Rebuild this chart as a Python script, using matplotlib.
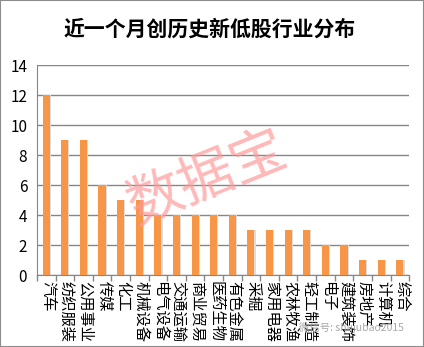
import matplotlib.pyplot as plt
import numpy as np

plt.rcParams['font.family'] = ['Noto Sans CJK SC', 'DejaVu Sans']

industries = ['汽车', '纺织服装', '公用事业', '传媒', '化工', '机械设备', '电气设备',
              '交通运输', '商业贸易', '医药生物', '有色金属', '采掘', '家用电器',
              '农林牧渔', '轻工制造', '电子', '建筑装饰', '房地产', '计算机', '综合']
counts = [12, 9, 9, 6, 5, 5, 4, 4, 4, 4, 4, 3, 3, 3, 3, 2, 2, 1, 1, 1]
yticks = [0, 2, 4, 6, 8, 10, 12, 14]

fig = plt.figure(figsize=(4.24, 3.47), dpi=100)
ax = fig.add_axes([0.087, 0.207, 0.878, 0.605])

x = np.arange(len(industries))
# light shadow behind the bars
ax.bar(x + 0.06, counts, width=0.38, color='#dcdcdc', zorder=2)
ax.bar(x, counts, width=0.38, color='#F79646', zorder=3)

ax.set_xlim(-0.5, len(industries) - 0.5)
ax.set_ylim(0, 14)
ax.set_yticks(yticks)
ax.tick_params(axis='y', labelsize=11, length=0, pad=7)
ax.yaxis.grid(True, color='#868686', linewidth=1)
ax.set_axisbelow(True)

ax.set_xticks(x + 0.1)
ax.set_xticklabels(industries, rotation=-90, fontsize=11, va='top', ha='center')
ax.tick_params(axis='x', length=0, pad=4)
ax.set_xticks(np.arange(len(industries) + 1) - 0.5, minor=True)
ax.tick_params(axis='x', which='minor', length=4, color='#868686', width=1)

for side in ['top', 'right']:
    ax.spines[side].set_visible(False)
ax.spines['left'].set_color('#868686')
ax.spines['bottom'].set_color('#868686')

fig.text(0.495, 0.915, '近一个月创历史新低股行业分布', ha='center', va='center',
         fontsize=15, fontweight='bold')

# watermark
fig.text(0.49, 0.487, '数据宝', ha='center', va='center', fontsize=40,
         color='#ff9a9a', alpha=0.7, rotation=22, zorder=10)
fig.text(0.83, 0.055, '微信号: shujubao2015', ha='center', va='center',
         fontsize=7.5, color='#9a9a9a', alpha=0.85, zorder=10)

# figure border
fig.patches.append(plt.Rectangle((0, 0), 1, 1, transform=fig.transFigure,
                                 fill=False, edgecolor='#8c8c8c', linewidth=1.5))

fig.savefig('out.png', dpi=100)
